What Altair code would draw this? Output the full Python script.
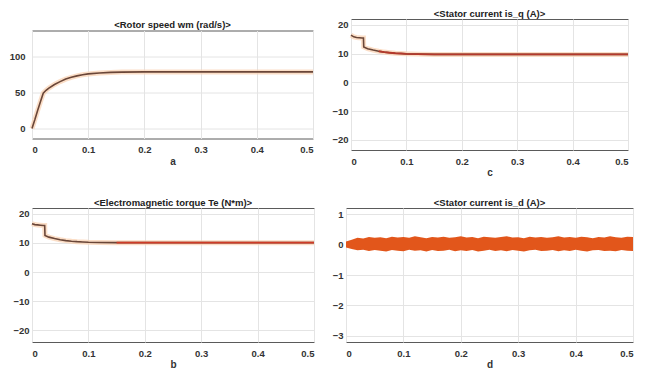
import altair as alt
import pandas as pd

# ---- data ----
t_speed = [0, 0.005, 0.01, 0.015, 0.02, 0.025, 0.03, 0.04, 0.05, 0.06, 0.07,
           0.08, 0.09, 0.1, 0.12, 0.14, 0.16, 0.2, 0.3, 0.4, 0.5]
speed = [0, 12, 25, 37, 49, 53, 56, 61, 65, 68.5, 71, 73, 74.5, 75.7, 77,
         77.8, 78.2, 78.5, 78.5, 78.5, 78.5]

t_cur = [0, 0.005, 0.01, 0.015, 0.02, 0.0225, 0.023, 0.03, 0.04, 0.05, 0.06,
         0.07, 0.08, 0.09, 0.1, 0.12, 0.15, 0.2, 0.3, 0.4, 0.5]
torque = [16.6, 16.3, 16.2, 16.1, 16.0, 16.0, 12.6, 12.0, 11.5, 11.1, 10.8,
          10.6, 10.45, 10.35, 10.25, 10.15, 10.1, 10.1, 10.1, 10.1, 10.1]
iq = [16.4, 15.8, 15.6, 15.5, 15.4, 15.4, 12.3, 11.7, 11.2, 10.8, 10.5,
      10.3, 10.1, 10.0, 9.9, 9.8, 9.7, 9.7, 9.7, 9.7, 9.7]

t_id = [i / 100 for i in range(51)]
id_upper = [0.1, 0.16, 0.22, 0.2, 0.25, 0.22, 0.24, 0.21, 0.26, 0.23,
            0.25, 0.22, 0.27, 0.24, 0.21, 0.25, 0.23, 0.26, 0.22, 0.24,
            0.27, 0.23, 0.25, 0.21, 0.26, 0.24, 0.22, 0.25, 0.27, 0.23,
            0.24, 0.21, 0.26, 0.23, 0.25, 0.22, 0.24, 0.27, 0.23, 0.25,
            0.22, 0.26, 0.24, 0.21, 0.25, 0.23, 0.27, 0.24, 0.22, 0.26,
            0.25]
id_lower = [-0.1, -0.15, -0.19, -0.17, -0.21, -0.18, -0.2, -0.23, -0.18, -0.2,
            -0.22, -0.17, -0.2, -0.19, -0.23, -0.18, -0.21, -0.2, -0.17, -0.22,
            -0.19, -0.21, -0.18, -0.23, -0.2, -0.17, -0.21, -0.19, -0.22, -0.18,
            -0.2, -0.23, -0.19, -0.17, -0.21, -0.2, -0.18, -0.22, -0.19, -0.21,
            -0.17, -0.2, -0.23, -0.19, -0.18, -0.21, -0.2, -0.22, -0.18, -0.2,
            -0.21]

x_ticks = [0, 0.1, 0.2, 0.3, 0.4, 0.5]

HALO = "#f9d3b4"
DARK = "#6a4638"
RED = "#cf3b26"
ORANGE = "#e2561b"
FONT = "Liberation Sans"


def xenc(letter):
    return alt.X("t:Q", title=letter,
                 scale=alt.Scale(domain=[0, 0.5], nice=False),
                 axis=alt.Axis(values=x_ticks, format=".1~f", labelPadding=6))


def yenc(field, domain, ticks, pad=3):
    return alt.Y(field, title=None,
                 scale=alt.Scale(domain=domain, nice=False, zero=False),
                 axis=alt.Axis(values=ticks, labelPadding=pad))


def line_panel(t, v, title, letter, domain, ticks, w, h, split, late_color,
               title_offset=1, pad=3):
    df = pd.DataFrame({"t": t, "v": v})
    base = alt.Chart(df).encode(x=xenc(letter),
                                y=yenc("v:Q", domain, ticks, pad))
    halo = base.mark_line(color=HALO, strokeWidth=5, opacity=0.75)
    dark = base.mark_line(color=DARK, strokeWidth=1.6)
    layers = [halo, dark]
    if split is not None:
        late = base.transform_filter(alt.datum.t >= split).mark_line(
            color=late_color, strokeWidth=1.9)
        layers.append(late)
    return alt.layer(*layers).properties(
        width=w, height=h,
        title=alt.TitleParams(title, offset=title_offset))


a = line_panel(t_speed, speed, "<Rotor speed wm (rad/s)>", "a",
               [-14, 136], [0, 50, 100], 281, 108, None, None, pad=7)
c = line_panel(t_cur, iq, "<Stator current is_q (A)>", "c",
               [-23.5, 22], [-20, -10, 0, 10, 20], 277, 131, 0.05, "#b5392b")
b = line_panel(t_cur, torque, "<Electromagnetic torque Te (N*m)>", "b",
               [-24, 22], [-20, -10, 0, 10, 20], 282, 134, 0.13, RED)

df_id = pd.DataFrame({"t": t_id, "hi": id_upper, "lo": id_lower})
d = alt.Chart(df_id).mark_area(color=ORANGE, opacity=1).encode(
    x=xenc("d"),
    y=yenc("hi:Q", [-3.2, 1.2], [-3, -2, -1, 0, 1]),
    y2="lo:Q",
).properties(width=287, height=134,
             title=alt.TitleParams("<Stator current is_d (A)>", offset=1))

top = alt.hconcat(a, c, spacing=7, center=True)
bottom = alt.hconcat(b, d, spacing=6)
chart = alt.vconcat(top, bottom, spacing=19).properties(
    padding={"left": 0, "top": 0, "right": 0, "bottom": 0}
).configure(
    font=FONT
).configure_view(
    stroke="#5a5a5a", strokeWidth=1
).configure_axis(
    domain=False, ticks=False, grid=True, gridColor="#e4e4e4",
    labelFont=FONT, labelFontSize=9.5, labelFontWeight="bold",
    labelColor="#333333",
    titleFont=FONT, titleFontSize=10, titleFontWeight="bold",
    titleColor="#333333", titlePadding=2
).configure_title(
    font=FONT, fontSize=9.5, fontWeight="bold", color="#222222"
)

chart.save("out.html", embed_options={"renderer": "svg", "actions": False})
